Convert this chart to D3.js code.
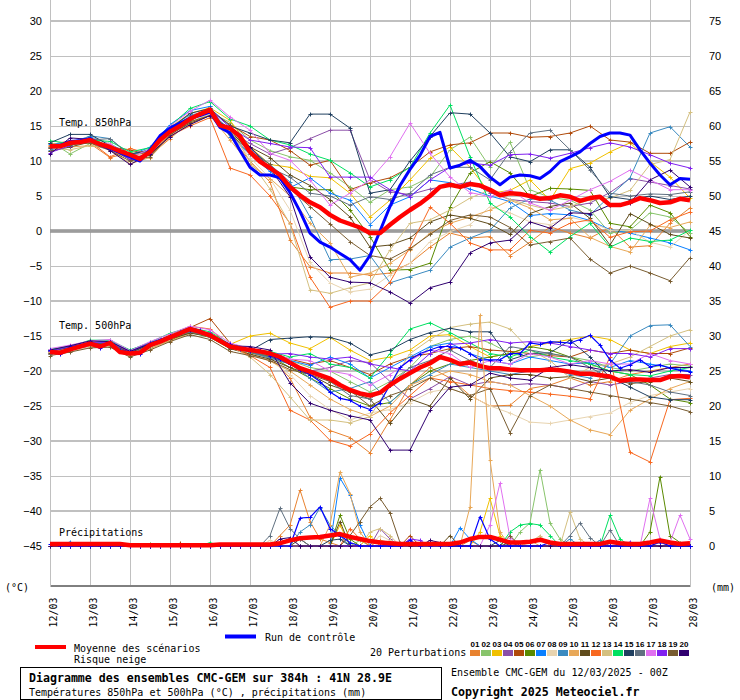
<!DOCTYPE html>
<html><head><meta charset="utf-8">
<script src="https://cdn.jsdelivr.net/npm/d3@7"></script>
<style>body{margin:0;background:#fff}svg{display:block}</style>
</head><body>
<svg id="c" width="740" height="700"></svg>
<script>
// ---------- DATA ----------
const dayLabels = ['12/03','13/03','14/03','15/03','16/03','17/03','18/03','19/03','20/03','21/03','22/03','23/03','24/03','25/03','26/03','27/03','28/03'];
const tempTicks = [30,25,20,15,10,5,0,-5,-10,-15,-20,-25,-30,-35,-40,-45];
const precipTicks = [75,70,65,60,55,50,45,40,35,30,25,20,15,10,5,0];
const memberNames = ['01','02','03','04','05','06','07','08','09','10','11','12','13','14','15','16','17','18','19','20'];
const memberColors = ['#e8822f','#88c46b','#f0c000','#8b4fa8','#b04a0a','#5a8a00','#0a80ff','#e8d4b0','#3a8ac0','#e8a858','#604c1c','#f86820','#d4c080','#00e060','#204060','#607080','#e070f0','#8020f0','#785c30','#300070'];

// mean and control, every 6 h (65 values)
const meanT850 = [12.1,12.1,12.6,12.7,13.0,12.4,12.0,11.4,10.9,10.3, 11.3,13.0,14.2,15.0,16.0,16.7,17.3,15.1,14.7,13.5, 11.3,9.9,9.0,8.0,6.3,5.1,4.1,3.4,2.3,1.5, 1.0,0.5,-0.3,-0.3,0.9,2.0,3.0,3.9,5.0,6.3, 6.6,6.3,6.7,6.5,5.9,5.1,5.4,5.3,5.0,4.6, 4.7,5.1,4.9,4.3,4.7,4.9,3.7,3.7,4.1,4.7, 4.4,4.0,4.1,4.6,4.4];
const ctrlT850 = [12.0,12.2,12.8,12.9,13.2,12.3,11.8,11.2,10.6,10.0, 11.6,13.6,14.7,15.4,16.1,16.5,17.0,14.8,14.0,11.5, 9.1,8.0,8.0,7.6,5.5,2.8,-0.3,-1.6,-2.3,-3.2, -4.1,-5.6,-3.5,0.0,3.5,6.5,8.8,10.8,13.5,14.1, 9.0,9.4,10.1,9.2,7.7,6.6,7.7,8.0,7.9,7.5, 8.5,9.9,10.6,11.3,12.5,13.5,14.0,14.0,13.7,11.6, 9.7,8.0,6.6,7.5,7.4];
const meanT500 = [-17.3,-17.4,-16.9,-16.5,-16.1,-16.5,-16.0,-17.3,-17.5,-17.4, -16.3,-15.8,-15.2,-14.6,-14.0,-14.4,-14.9,-15.7,-16.5,-16.8, -17.0,-17.2,-17.5,-18.0,-18.8,-19.6,-20.1,-20.6,-21.1,-22.0, -22.7,-23.2,-23.5,-23.1,-22.0,-21.1,-20.3,-19.5,-18.9,-18.0, -18.4,-19.0,-18.8,-19.3,-19.6,-19.6,-19.8,-19.9,-19.9,-19.9, -19.8,-19.9,-20.1,-20.4,-20.4,-20.6,-20.8,-21.4,-21.2,-21.2, -21.3,-21.3,-20.8,-20.7,-20.9];
const ctrlT500 = [-17.0,-17.6,-16.6,-16.3,-15.9,-16.7,-15.8,-17.0,-17.3,-17.6, -16.0,-15.5,-15.0,-14.4,-13.8,-14.2,-15.0,-15.5,-16.2,-16.9, -17.2,-17.0,-17.8,-18.3,-19.0,-19.8,-20.5,-21.5,-23.0,-23.9, -24.2,-25.0,-25.5,-24.5,-22.0,-19.5,-18.4,-17.5,-17.0,-16.5, -16.5,-16.7,-17.5,-18.4,-18.4,-18.4,-17.5,-17.5,-16.0,-16.2, -15.8,-15.9,-16.0,-15.5,-14.9,-16.3,-18.4,-19.6,-19.1,-18.4, -19.4,-19.1,-19.6,-19.9,-20.1];
const meanPrecip = [0.3,0.3,0.3,0.3,0.3,0.3,0.3,0.3,0.1,0.1, 0.1,0.1,0.1,0.1,0.1,0.1,0.1,0.2,0.2,0.2, 0.2,0.2,0.2,0.4,0.8,1.1,1.2,1.3,1.5,1.7, 1.3,1.0,0.7,0.5,0.4,0.3,0.3,0.3,0.3,0.3, 0.3,0.5,1.0,1.3,1.3,0.9,0.5,0.5,0.6,0.9, 0.5,0.3,0.3,0.3,0.3,0.3,0.6,0.4,0.3,0.3, 0.5,0.8,0.5,0.3,0.4];
const ctrlPrecip = [0.3,0,0,0,0,0,0,0,0,0, 0,0,0,0,0,0,0,0,0,0, 0,0,0,0,0,4,4.1,5.6,2.5,1.5, 0.5,0,0,0,0,0,0.8,0,0,0, 0,0,0,4.2,1,0,0,0,0,0, 0.5,0,0,0,0,0,0,0,0,0, 0,0.6,0,0,0];

// 20 perturbations, temperatures every 12 h (33 values)
const t850_01 = [12.3,12.9,12.5,10.5,11.2,10.8,13.2,15.6,17.8,13.5, 10.0,7.0,-1.3,-5.1,-6.0,-6.0,-6.3,-6.0,-4.6,-2.3, -0.3,-1.0,-0.8,-3.5,-1.6,0.6,-0.3,-1.0,0.5,-2.3, -2.1,1.1,3.3];
const t850_02 = [12.8,11.0,12.5,12.2,10.6,11.8,14.5,16.4,17.0,15.5, 13.0,11.5,10.6,10.1,8.3,6.3,4.1,5.9,6.3,7.7, 11.6,13.4,9.1,12.7,5.9,4.8,4.4,3.0,-0.3,0.1, 2.6,2.0,-0.3];
const t850_03 = [11.8,12.4,12.8,12.3,10.6,11.5,14.8,16.8,17.6,15.8, 12.0,9.5,9.1,7.8,7.6,5.4,2.0,4.4,7.3,10.4, 12.0,9.1,5.4,5.8,7.3,4.4,8.9,9.7,11.3,12.6, 9.9,7.7,4.7];
const t850_04 = [11.5,12.8,13.2,11.6,10.3,11.0,14.5,16.2,16.9,14.2, 12.5,11.0,11.9,13.2,14.4,14.4,7.3,5.6,5.2,6.0, 6.5,7.0,5.5,4.5,4.2,4.0,3.5,4.0,5.5,7.5, 7.0,6.5,6.0];
const t850_05 = [12.5,12.2,13.4,12.0,11.6,10.8,14.0,15.8,17.2,15.2, 13.5,13.0,11.5,9.4,10.1,5.9,6.9,7.6,9.1,11.3, 12.3,12.6,14.0,14.0,13.4,13.5,14.0,15.0,13.0,12.7, 11.1,11.1,12.7];
const t850_06 = [12.0,12.8,12.9,12.2,11.0,11.4,14.0,15.9,17.0,14.2, 11.5,9.1,6.3,5.9,5.9,3.0,-0.8,-5.6,-5.5,-4.6, 3.4,8.3,9.9,8.3,4.9,6.1,6.0,5.8,1.1,0.6, 3.7,2.6,-0.8];
const t850_07 = [12.4,12.7,13.5,12.5,10.8,12.0,15.2,17.2,17.8,13.5, 11.0,8.5,6.2,7.6,5.4,4.4,0.9,3.7,4.9,7.3, 6.9,6.0,5.0,4.2,2.2,2.5,2.3,1.5,0.2,-0.3, -1.0,-1.7,-2.7];
const t850_08 = [12.0,12.4,13.6,12.5,10.5,11.2,14.0,15.5,16.8,14.0, 10.5,7.5,3.0,-4.5,-7.4,-8.7,-8.3,-6.3,-4.6,-1.5, -0.1,0.9,3.5,2.6,1.3,0.9,2.0,1.3,0.1,0.1, -1.6,-2.3,0.1];
const t850_09 = [11.6,12.3,13.6,13.2,10.9,11.6,14.8,16.6,17.0,14.5, 11.8,9.5,7.0,2.0,-4.1,-4.0,-3.5,-7.4,-6.5,-5.6, -2.3,-1.0,0.1,3.3,4.6,4.4,3.0,2.3,5.0,7.6, 14.0,14.9,12.0];
const t850_10 = [12.6,12.0,12.2,11.7,9.6,10.5,13.5,15.3,16.5,13.0, 9.5,7.5,5.0,1.1,-1.7,-6.6,-6.0,-4.6,-2.7,-0.3, 1.1,2.0,3.0,4.4,3.3,1.6,1.8,-0.9,-2.2,-3.0, 0.8,0.5,1.3];
const t850_11 = [11.4,12.0,12.7,11.8,10.2,10.9,13.8,15.4,16.5,14.0, 12.0,10.5,8.0,6.5,4.5,2.0,-2.3,-2.0,-1.0,1.3, 2.3,1.8,1.0,-0.5,2.5,3.5,4.0,1.8,-2.0,2.5, 1.0,-0.5,-1.0];
const t850_12 = [12.2,12.5,12.8,10.6,11.8,11.0,13.6,15.0,16.2,9.0, 8.0,5.0,1.1,-6.6,-10.9,-10.0,-10.0,-7.3,-2.3,3.4, 1.1,-1.7,-2.7,-2.7,0.1,-0.3,1.1,1.6,-0.9,-0.1, 0.0,1.6,2.7];
const t850_13 = [11.9,11.6,12.2,11.9,10.4,11.0,13.9,15.6,16.6,14.5, 10.0,6.0,1.0,-8.4,-8.9,-8.1,-7.4,-2.7,1.1,1.6, 3.0,4.7,5.9,4.5,3.7,3.0,3.5,4.5,4.7,5.8, 9.5,10.2,17.0];
const t850_14 = [12.9,12.5,13.0,12.8,11.3,11.9,15.0,17.5,18.5,16.0, 15.0,13.0,12.3,11.0,10.1,8.3,6.3,7.3,9.1,14.0, 18.0,10.6,4.0,2.0,-0.8,-3.0,-0.8,1.1,-2.3,-1.0, -1.5,-1.3,0.1];
const t850_15 = [12.6,13.8,13.8,12.2,11.0,11.5,14.6,16.8,17.5,15.0, 14.0,13.0,12.6,16.7,16.7,14.7,5.4,5.9,10.0,13.5, 16.9,16.7,14.0,10.6,9.9,11.6,11.6,9.1,4.9,4.5, 5.0,4.5,5.0];
const t850_16 = [12.0,12.8,13.0,13.2,10.8,11.4,14.3,16.0,17.2,14.0, 11.0,9.0,7.7,5.4,5.0,3.7,4.9,4.5,5.4,8.0, 9.1,9.1,7.3,11.3,14.0,14.4,11.6,8.7,5.4,5.0, 5.3,5.2,5.6];
const t850_17 = [11.8,12.7,12.7,12.4,10.5,11.7,15.0,17.1,18.7,16.3, 14.4,11.1,10.1,7.3,3.7,5.4,7.3,10.6,15.4,11.1, 7.7,5.5,4.9,5.9,4.0,3.0,4.4,5.9,7.1,8.7, 7.3,5.9,5.9];
const t850_18 = [11.2,12.2,13.2,12.0,10.2,11.2,14.4,16.3,17.4,14.8, 13.0,12.5,12.0,11.9,7.7,7.7,7.7,5.9,4.9,7.3, 9.1,9.7,9.4,10.9,11.0,10.4,11.1,11.9,12.6,12.0, 10.9,9.7,9.0];
const t850_19 = [11.9,12.3,12.6,11.5,10.0,10.6,13.7,15.6,16.5,13.8, 11.5,9.5,6.0,3.5,1.0,-1.5,-3.5,-4.0,-2.5,-0.5, 1.5,2.3,2.0,0.5,-2.0,-1.5,-1.0,-4.0,-6.0,-5.0, -6.0,-7.1,-3.8];
const t850_20 = [11.0,13.3,13.1,11.5,9.5,11.0,13.5,15.2,16.5,14.6, 12.0,9.0,4.9,-3.7,-6.6,-7.3,-7.4,-8.7,-10.3,-8.1, -7.3,-3.1,-1.7,-1.3,1.3,0.4,2.6,2.5,3.7,4.0, 7.3,8.7,6.3];

const t500_01 = [-17.2,-16.5,-16.4,-16.2,-17.8,-16.8,-15.5,-14.5,-15.0,-16.6, -17.5,-18.0,-21.0,-26.6,-28.5,-29.5,-31.7,-27.0,-22.0,-19.5, -21.0,-23.5,-25.0,-24.9,-22.5,-22.0,-21.0,-22.0,-21.5,-20.5, -20.0,-19.5,-19.0];
const t500_02 = [-17.0,-16.8,-16.0,-15.8,-17.2,-16.0,-15.0,-14.2,-14.6,-16.4, -17.2,-17.8,-18.5,-19.5,-20.0,-21.5,-23.0,-21.5,-19.5,-16.5, -15.5,-15.0,-16.0,-17.5,-18.0,-17.5,-18.0,-18.5,-19.5,-20.0, -19.5,-19.0,-19.3];
const t500_03 = [-17.5,-16.7,-16.3,-16.1,-17.6,-16.5,-15.3,-14.0,-15.0,-16.2, -15.0,-14.6,-16.0,-16.8,-15.2,-17.0,-18.5,-18.0,-17.0,-15.0, -14.8,-16.5,-18.0,-17.5,-16.5,-16.0,-15.5,-15.0,-15.5,-17.0, -17.5,-16.5,-16.0];
const t500_04 = [-17.4,-16.9,-16.5,-15.8,-17.6,-16.4,-15.4,-14.3,-15.2,-16.7, -17.2,-17.9,-19.0,-20.0,-19.5,-18.5,-18.8,-21.5,-24.0,-22.5, -20.8,-22.0,-21.5,-22.0,-21.8,-22.0,-22.5,-21.5,-22.0,-21.5, -21.0,-20.5,-20.5];
const t500_05 = [-17.3,-16.6,-16.0,-16.0,-17.3,-16.2,-15.0,-13.8,-12.5,-16.0, -17.0,-17.3,-18.3,-19.0,-18.5,-19.5,-20.5,-19.0,-18.0,-17.5, -16.8,-16.5,-17.0,-17.2,-17.5,-17.8,-18.0,-17.0,-17.5,-17.0, -17.5,-17.5,-16.7];
const t500_06 = [-17.6,-17.0,-16.3,-16.2,-17.7,-16.6,-15.6,-14.5,-15.2,-16.8, -17.4,-17.9,-19.5,-21.0,-22.5,-24.0,-25.0,-24.5,-22.0,-20.0, -19.0,-18.5,-18.0,-17.5,-16.5,-17.0,-18.0,-19.0,-20.0,-20.5, -22.0,-24.0,-24.5];
const t500_07 = [-17.1,-16.6,-15.9,-15.7,-17.3,-16.1,-15.1,-14.1,-14.7,-16.3, -17.0,-17.5,-18.5,-19.2,-18.0,-19.0,-21.0,-19.5,-18.0,-16.5, -16.0,-17.5,-18.5,-19.0,-18.0,-18.5,-19.0,-18.8,-19.5,-18.5, -19.0,-19.5,-20.0];
const t500_08 = [-17.6,-17.2,-16.6,-16.5,-17.9,-16.7,-15.5,-14.2,-14.9,-16.2, -17.5,-18.5,-20.5,-23.5,-25.5,-27.0,-26.0,-25.5,-24.5,-23.0, -22.5,-23.5,-25.0,-26.0,-27.3,-27.5,-27.0,-26.5,-26.0,-24.5, -23.5,-23.0,-22.5];
const t500_09 = [-17.0,-16.4,-15.8,-16.0,-17.0,-16.0,-15.2,-14.4,-14.8,-16.4, -17.3,-18.2,-19.0,-21.0,-23.0,-22.5,-21.5,-24.5,-22.0,-20.5, -19.0,-19.5,-20.0,-20.5,-20.0,-19.5,-20.5,-21.0,-19.0,-15.0, -13.5,-13.4,-16.5];
const t500_10 = [-17.5,-17.0,-16.4,-16.3,-17.8,-16.8,-15.7,-14.6,-14.5,-16.6, -17.6,-18.6,-20.0,-22.0,-24.0,-25.5,-26.5,-25.0,-22.0,-21.0, -20.0,-20.5,-21.5,-22.0,-23.5,-25.0,-27.0,-28.4,-29.1,-25.6, -24.0,-22.5,-21.5];
const t500_11 = [-17.4,-16.8,-16.2,-16.2,-17.6,-16.5,-15.4,-14.6,-15.0,-16.8, -17.6,-18.3,-19.5,-20.5,-22.0,-23.0,-24.0,-27.5,-24.0,-25.0, -21.0,-24.0,-21.0,-20.5,-20.5,-21.0,-20.8,-21.5,-21.0,-21.8, -21.5,-21.0,-21.5];
const t500_12 = [-17.2,-16.7,-16.2,-16.0,-17.4,-16.3,-14.8,-13.6,-14.0,-16.5, -17.8,-19.5,-25.6,-27.0,-29.9,-30.7,-29.0,-26.0,-23.5,-21.0, -21.5,-22.0,-22.5,-22.8,-23.0,-23.3,-23.6,-24.0,-18.0,-31.6, -33.0,-24.1,-23.9];
const t500_13 = [-17.3,-16.8,-15.6,-16.4,-17.5,-16.6,-15.3,-14.0,-15.2,-16.5, -18.0,-20.5,-23.7,-27.0,-27.0,-27.4,-26.5,-22.0,-17.5,-15.5, -13.8,-13.3,-13.0,-14.0,-17.0,-18.5,-21.0,-19.5,-19.0,-18.0, -16.5,-15.0,-14.1];
const t500_14 = [-16.9,-16.5,-15.6,-15.6,-17.0,-15.9,-14.6,-13.8,-14.4,-16.2, -17.0,-17.2,-18.0,-17.5,-19.0,-19.5,-21.0,-17.5,-14.0,-13.1, -14.5,-16.0,-17.5,-18.0,-17.0,-18.0,-18.5,-19.0,-20.0,-20.5, -20.7,-20.0,-19.5];
const t500_15 = [-17.2,-16.6,-16.0,-16.1,-17.4,-16.2,-15.1,-14.3,-14.8,-16.7, -17.1,-15.5,-15.3,-15.1,-15.2,-16.0,-17.7,-17.0,-15.5,-14.5, -13.9,-14.4,-14.4,-18.4,-17.5,-17.4,-15.6,-18.0,-20.9,-22.3, -23.7,-24.1,-24.1];
const t500_16 = [-17.5,-16.8,-16.3,-16.0,-17.6,-16.4,-15.3,-14.4,-15.1,-16.6, -17.3,-18.0,-19.0,-20.0,-21.5,-23.5,-24.0,-22.0,-19.5,-18.5, -17.0,-18.5,-19.5,-16.5,-17.0,-17.5,-18.0,-19.5,-21.0,-21.5, -22.0,-23.0,-23.5];
const t500_17 = [-16.8,-16.3,-15.7,-15.5,-17.1,-15.8,-14.7,-13.6,-14.1,-16.0, -16.8,-17.3,-18.3,-18.5,-20.0,-20.5,-22.0,-20.5,-18.5,-17.0, -17.5,-19.5,-18.5,-19.0,-17.5,-18.0,-19.0,-18.5,-19.0,-19.0, -17.5,-18.5,-19.0];
const t500_18 = [-17.2,-16.5,-15.9,-15.9,-17.2,-16.0,-15.0,-14.1,-14.6,-16.3, -17.0,-17.6,-17.5,-18.0,-18.3,-18.0,-19.0,-19.5,-20.0,-17.5, -16.2,-16.0,-15.5,-16.0,-15.8,-16.0,-16.5,-17.0,-17.5,-17.5, -18.0,-16.8,-16.8];
const t500_19 = [-17.8,-17.3,-16.7,-16.6,-18.0,-17.0,-15.8,-14.8,-15.5,-17.2, -17.8,-18.5,-19.8,-20.5,-21.5,-22.8,-25.0,-23.5,-22.5,-21.0, -22.5,-23.5,-22.5,-28.8,-23.5,-22.0,-22.5,-23.0,-23.5,-24.0, -24.5,-25.0,-25.8];
const t500_20 = [-17.0,-16.4,-15.7,-15.8,-17.2,-16.1,-15.0,-14.2,-14.8,-16.4, -16.5,-17.0,-21.7,-24.6,-25.6,-26.4,-27.0,-31.3,-31.3,-25.6, -22.3,-22.0,-20.3,-21.0,-21.3,-19.5,-19.1,-19.5,-20.0,-19.8, -20.2,-19.5,-19.5];

// precipitation of the perturbations, every 6 h (65 values)
const pr_01 = [0,0,0,0,0,0,0,0,0,0, 0,0,0,0,0,0,0,0,0,0, 0,0,0,1.5,3,8,3.5,1,0.5,0, 0,0,0,0.8,0.5,0,0,0,0,0, 0,0,0.8,0,0,0,0,0,0,0, 0,0,0,0,0,0,0,0,0,0, 0,0,0,0,0];
const pr_02 = [0,0,0,0,0,0,0,0,0,0, 0,0,0,0,0,0,0,0,0,0, 0,0,0,0,0,0,0,0,0,0, 0,0.8,0,0,0,0,0,0,0,0, 0,0,0,0,0,0,0,2,3.3,10.9, 3.3,1,0,0.5,0,0,0,0,0,0, 0,0,0,0,0];
const pr_03 = [0,0,0,0,0,0,0,0,0,0, 0,0,0,0,0,0,0,0,0,0, 0,0,0,0,0,0,0,0,0,3, 0,0,1.5,0,0,0,0,0,0,0, 0,0,0,2,6.8,1.5,0,0,0,0, 0,0,0,0,0,0,0,0,0,0, 0,0,0,0,0];
const pr_04 = [0,0,0,0,0,0,0,0,0,0, 0,0,0,0,0,0,0,0,0,0, 0,0,0,0,0,0,0,0,0,0, 0,0,0,2.5,1,0,0,0,0,0, 0,0,0,0,0,0,0,0,0,0, 0,0,0,0,0,0,0,0,0,0, 0,0.5,0,0,0];
const pr_05 = [0,0,0,0,0,0,0,0,0,0, 0,0,0,0.4,0,0,0,0,0,0, 0,0,0,0,0,0,0,0,0,0, 0,0,0,0,0,0,1.5,0,0,0, 0,0,0,0,0,0,0,0,0,0, 0,0,0,0,0,0,0,0,0,0, 0,0,0,0,0];
const pr_06 = [0,0,0,0,0,0,0,0,0,0, 0.3,0,0,0,0,0,0,0,0,0, 0,0,0,0,0,0,0,0,0,4.4, 1,0,0,0,0,0,0,0,0,0, 0,0,0,0,0,0,0,0,0,0, 0,0,0,0,0,0,0,0,0,0, 2,9.9,1.5,0.5,0];
const pr_07 = [0,0,0.6,0,0,0,0,0,0,0, 0,0,0,0,0,0,0,0,0,0, 0,0,0,0,0,0,0,0,0,9.7, 7.3,3,0,0,0,0,0,0,0,0, 0,2.6,1,0,0,0,0,0,0,0, 0,0,0,0,0,0,0,0,0,0, 0,0,0,0,0];
const pr_08 = [0,0,0,0,0,0,0,0,0,0, 0,0,0,0,0,0,0,0,0,0, 0,0,0.8,0,1,0,0,0,0,0, 0,0,0,1.5,0.8,0,0,0,0,0, 0,0,0,0,0,0,0,0,0,0, 0,0,0,0,0,0,0,0,0,0, 0,0,0,0,0];
const pr_09 = [0,0,0,0,0,0,0,0,0,0, 0,0,0,0,0,0,0,0,0,0, 0,0,0,0,0,2,3,5.5,3,1.5, 0,0,0,0,0,0,0,0,0,0, 0,0,0,0,0,0,0,0,0,0, 0,0,1,0,0,0.8,0,0,0,0, 0,0,0,0,0];
const pr_10 = [0,0,0,0,0,0,0,0,0,0, 0,0,0,0,0,0,0,0,0,0, 0,0,0,0,0,0,0,0,3,10.6, 7.5,2,0,0,0,0,0,0,0,0, 0,0,5.6,33,12.3,2,0,0,0.8,0, 0,0,0,0,0,0,0,0,0,0, 0,0,0,0,0];
const pr_11 = [0,0,0,0,0,0,0,0,0,0, 0,0,0,0,0,0,0,0,0,0, 0,0,0,0,0,1,0,0,0,3.5, 0,0,0,0,0,0,0,0,0,0, 1.5,0,0,0,0,0,0.5,0,0,0, 0,0,0,0,0,0,0,0,0,0, 0,0,0,0,0];
const pr_12 = [0,0,0,0,0,0.2,0,0,0,0, 0,0,0,0,0,0,0,0,0,0, 0,0,0,0,0,0,0,0,0,0, 2.5,1,0,0,0,0,0,0,0,0.5, 0,0,0,0,0,0,0,0,0,0, 0,0,0,0,0,0,0,0,0,0, 0,0,0,0,0];
const pr_13 = [0,0,0,0,0,0,0,0,0,0, 0,0,0,0,0,0,0,0,0,0, 0,0,0,0,0,0,0,0,0,0, 0,0,2,2.5,1.5,0,0,0,0,0, 0,0,0,0,0,0,0,0,0.5,1.5, 0,0,4.9,1,0,0,0,0,0,0, 0,0,0,0,0];
const pr_14 = [0,0,0,0,0,0,0,0,0,0, 0,0,0,0,0,0,0.5,0,0,0, 0,0,0,0,0,0,0,0,0,0, 0,0,0,0,0,0,0,0,0,0, 0,0,0,0,0,0,2,3,3.2,3, 1.5,0,0,0,0,0,4.4,1,0,0, 0,0,0,0,0];
const pr_15 = [0,0,0,0,0,0,0,0,0,0, 0,0,0,0,0,0,0,0,0,0, 0,0,0,0,0,0,0,0,0.8,1, 0,0,0,0,0,0,0,0,0,0, 0,0,0,0,0,0.8,0,0,0,0, 0,0,0,0,0,0,0,0,0,0, 0,0,0,0,0];
const pr_16 = [0,0,0,0,0,0,0,0,0,0, 0,0,0,0,0,0,0,0,0,0, 0,0,1.5,5.4,2.5,1,0,0,0,0, 0,0,0,0,0,0,0,0,0,0, 0,0,0,0,0,0,0,0,0,0, 0,0,1.5,3.3,1.2,0,2.3,0,0,0, 0,0,0,0,0];
const pr_17 = [0,0,0,0,0,0,0,0,0,0, 0,0,0,0,0,0,0,0,0,0, 0,0,0,0,0,0,0,0,0,0, 0,0,0,0,0,0,0,0,0,0, 0,0,0,0,3,9,1.2,0,0,0, 0,0,0,0,0,0,0,0,0,0, 6.8,1,0.5,4.4,1];
const pr_18 = [0,0,0,0,0,0,0,0,0,0, 0,0,0,0,0,0,0,0,0,0, 0,0,0,0,0,0,0,0,0,0, 0,0,0,0,0,0,1,0.8,0,0, 0,0,0,0,0,0,0,0,0,0, 0,0,0,0,0,0,0,0,0.6,0, 0,0,0,0,0];
const pr_19 = [0,0,0,0,0,0,0,0,0,0, 0,0,0,0,0,0,0,0,0,0, 0,0,0,0,0,0,0,0,0,0, 1.5,3.5,5.6,6.8,4.7,0.5,0,0,0,0, 0,0,0,0,0,0,1.5,0,0,0, 0,0,0,0,0,0,0,0,0,0, 0,0,0,0,0];
const pr_20 = [0,0,0,0,0,0,0,0,0,0, 0,0,0,0,0,0,0,0,0,0, 0,0,0,1,1.2,0,0,0,0,0, 0,0,0,0,0,0,0,0,0.8,0.5, 0,0,0,0,0,0,0,0,0,0, 0,0,0,0,0,0,0,0,0,0, 0,0,0,0,0];

const t850Members = [t850_01,t850_02,t850_03,t850_04,t850_05,t850_06,t850_07,t850_08,t850_09,t850_10,t850_11,t850_12,t850_13,t850_14,t850_15,t850_16,t850_17,t850_18,t850_19,t850_20];
const t500Members = [t500_01,t500_02,t500_03,t500_04,t500_05,t500_06,t500_07,t500_08,t500_09,t500_10,t500_11,t500_12,t500_13,t500_14,t500_15,t500_16,t500_17,t500_18,t500_19,t500_20];
const prMembers = [pr_01,pr_02,pr_03,pr_04,pr_05,pr_06,pr_07,pr_08,pr_09,pr_10,pr_11,pr_12,pr_13,pr_14,pr_15,pr_16,pr_17,pr_18,pr_19,pr_20];

// ---------- CHART ----------
const svg = d3.select('#c');
const MONO = "'DejaVu Sans Mono', monospace";
const SANS = "'Liberation Sans', Arial, sans-serif";
const x = d3.scaleLinear().domain([0, 384]).range([50, 690]);
const yT = d3.scaleLinear().domain([-45, 30]).range([546, 21]);
const yP = d3.scaleLinear().domain([0, 75]).range([546, 21]);
const dayHours = dayLabels.map((d, i) => i * 24);

// grid
const grid = svg.append('g');
grid.selectAll('line.v').data(dayHours).join('line')
  .attr('x1', d => x(d) + 0.5).attr('x2', d => x(d) + 0.5)
  .attr('y1', 0).attr('y2', 585)
  .attr('stroke', '#c0c0c0').attr('stroke-width', 1);
grid.selectAll('line.h').data(tempTicks.filter(t => t !== 0)).join('line')
  .attr('x1', 50).attr('x2', 691)
  .attr('y1', d => yT(d) + (d % 10 === 0 ? 0 : 0.5)).attr('y2', d => yT(d) + (d % 10 === 0 ? 0 : 0.5))
  .attr('stroke', '#c0c0c0').attr('stroke-width', d => d % 10 === 0 ? 2 : 1);
// zero line (double)
grid.append('rect').attr('x', 50).attr('y', yT(0) - 1.5).attr('width', 641).attr('height', 3).attr('fill', '#b8b8b8');
grid.append('line').attr('x1', 50).attr('x2', 691).attr('y1', yT(0) - 1).attr('y2', yT(0) - 1).attr('stroke', '#808080');
grid.append('line').attr('x1', 50).attr('x2', 691).attr('y1', yT(0) + 1).attr('y2', yT(0) + 1).attr('stroke', '#808080');

// axes
const styleAxis = g => {
  g.select('.domain').remove();
  g.selectAll('text').attr('font-family', SANS).attr('font-size', 11).attr('fill', '#000');
};
svg.append('g').attr('transform', 'translate(50,0)')
  .call(d3.axisLeft(yT).tickValues(tempTicks).tickSize(0).tickPadding(8).tickFormat(d3.format('d')))
  .call(styleAxis);
svg.append('g').attr('transform', 'translate(690,0)')
  .call(d3.axisRight(yP).tickValues(precipTicks).tickSize(0).tickPadding(19).tickFormat(d3.format('d')))
  .call(styleAxis);
const xAxis = svg.append('g').attr('transform', 'translate(0,585.5)')
  .call(d3.axisBottom(x).tickValues(dayHours).tickSize(0).tickSizeOuter(0).tickFormat((d, i) => dayLabels[i]));
xAxis.select('.domain').attr('stroke', '#000');
xAxis.selectAll('text').attr('font-family', MONO).attr('font-size', 10).attr('fill', '#000')
  .attr('y', null).attr('dy', null).attr('text-anchor', 'end')
  .attr('transform', 'translate(6,12) rotate(-90)');

svg.append('text').attr('x', 5).attr('y', 591).attr('font-family', MONO).attr('font-size', 10).text('(°C)');
svg.append('text').attr('x', 711).attr('y', 591).attr('font-family', MONO).attr('font-size', 10).text('(mm)');

// series drawing helper
function drawSeries(values, stepH, yScale, color, width, markers) {
  const line = d3.line().x((d, i) => x(i * stepH)).y(d => yScale(d));
  svg.append('path').attr('d', line(values)).attr('fill', 'none')
    .attr('stroke', color).attr('stroke-width', width).attr('stroke-linejoin', 'round');
  if (markers) {
    const m = values.map((v, i) => {
      const px = Math.round(x(i * stepH)), py = Math.round(yScale(v));
      return `M${px - 1.5},${py + 0.5}h4M${px + 0.5},${py - 1.5}v4`;
    }).join('');
    svg.append('path').attr('d', m).attr('fill', 'none').attr('stroke', color).attr('stroke-width', 1);
  }
}

// 850 hPa
t850Members.forEach((s, k) => drawSeries(s, 12, yT, memberColors[k], 1, true));
drawSeries(ctrlT850, 6, yT, '#0000ff', 3, false);
drawSeries(meanT850, 6, yT, '#ff0000', 4.5, false);
// 500 hPa
t500Members.forEach((s, k) => drawSeries(s, 12, yT, memberColors[k], 1, true));
drawSeries(ctrlT500, 6, yT, '#0000ff', 1.2, true);
drawSeries(meanT500, 6, yT, '#ff0000', 4.5, false);
// precipitation
prMembers.forEach((s, k) => drawSeries(s, 6, yP, memberColors[k], 1, true));
drawSeries(ctrlPrecip, 6, yP, '#0000ff', 1.2, true);
drawSeries(meanPrecip, 6, yP, '#ff0000', 4.5, false);

// panel labels
svg.append('text').attr('x', 59).attr('y', 126).attr('font-family', MONO).attr('font-size', 10).text('Temp. 850hPa');
svg.append('text').attr('x', 59).attr('y', 329).attr('font-family', MONO).attr('font-size', 10).text('Temp. 500hPa');
svg.append('text').attr('x', 59).attr('y', 536).attr('font-family', MONO).attr('font-size', 10).text('Précipitations');

// legend
svg.append('line').attr('x1', 35).attr('x2', 66).attr('y1', 647).attr('y2', 647).attr('stroke', '#ff0000').attr('stroke-width', 4);
svg.append('text').attr('x', 74).attr('y', 651.5).attr('font-family', MONO).attr('font-size', 10).text('Moyenne des scénarios');
svg.append('text').attr('x', 74).attr('y', 663).attr('font-family', MONO).attr('font-size', 10).text('Risque neige');
svg.append('line').attr('x1', 225).attr('x2', 256).attr('y1', 636.5).attr('y2', 636.5).attr('stroke', '#0000ff').attr('stroke-width', 4);
svg.append('text').attr('x', 265).attr('y', 641).attr('font-family', MONO).attr('font-size', 10).text('Run de contrôle');
svg.append('text').attr('x', 370).attr('y', 656).attr('font-family', MONO).attr('font-size', 10).text('20 Perturbations');
const lg = svg.append('g');
lg.selectAll('rect').data(memberColors).join('rect')
  .attr('x', (d, i) => 470 + i * 11).attr('y', 650).attr('width', 10).attr('height', 6).attr('fill', d => d);
lg.selectAll('text').data(memberNames).join('text')
  .attr('x', (d, i) => 475 + i * 11).attr('y', 646.5).attr('text-anchor', 'middle')
  .attr('font-family', SANS).attr('font-weight', 'bold').attr('font-size', 8).text(d => d);

// title box
svg.append('rect').attr('x', 20.5).attr('y', 667.5).attr('width', 421).attr('height', 32).attr('fill', 'none').attr('stroke', '#000');
svg.append('text').attr('x', 29).attr('y', 681.5).attr('font-family', MONO).attr('font-weight', 'bold').attr('font-size', 11.6)
  .text('Diagramme des ensembles CMC-GEM sur 384h : 41N 28.9E');
svg.append('text').attr('x', 29).attr('y', 695.5).attr('font-family', MONO).attr('font-size', 10)
  .text('Températures 850hPa et 500hPa (°C) , précipitations (mm)');
svg.append('text').attr('x', 451).attr('y', 676).attr('font-family', MONO).attr('font-size', 10)
  .text('Ensemble CMC-GEM du 12/03/2025 - 00Z');
svg.append('text').attr('x', 451).attr('y', 696).attr('font-family', MONO).attr('font-weight', 'bold').attr('font-size', 11.6)
  .text('Copyright 2025 Meteociel.fr');
</script>
</body></html>
